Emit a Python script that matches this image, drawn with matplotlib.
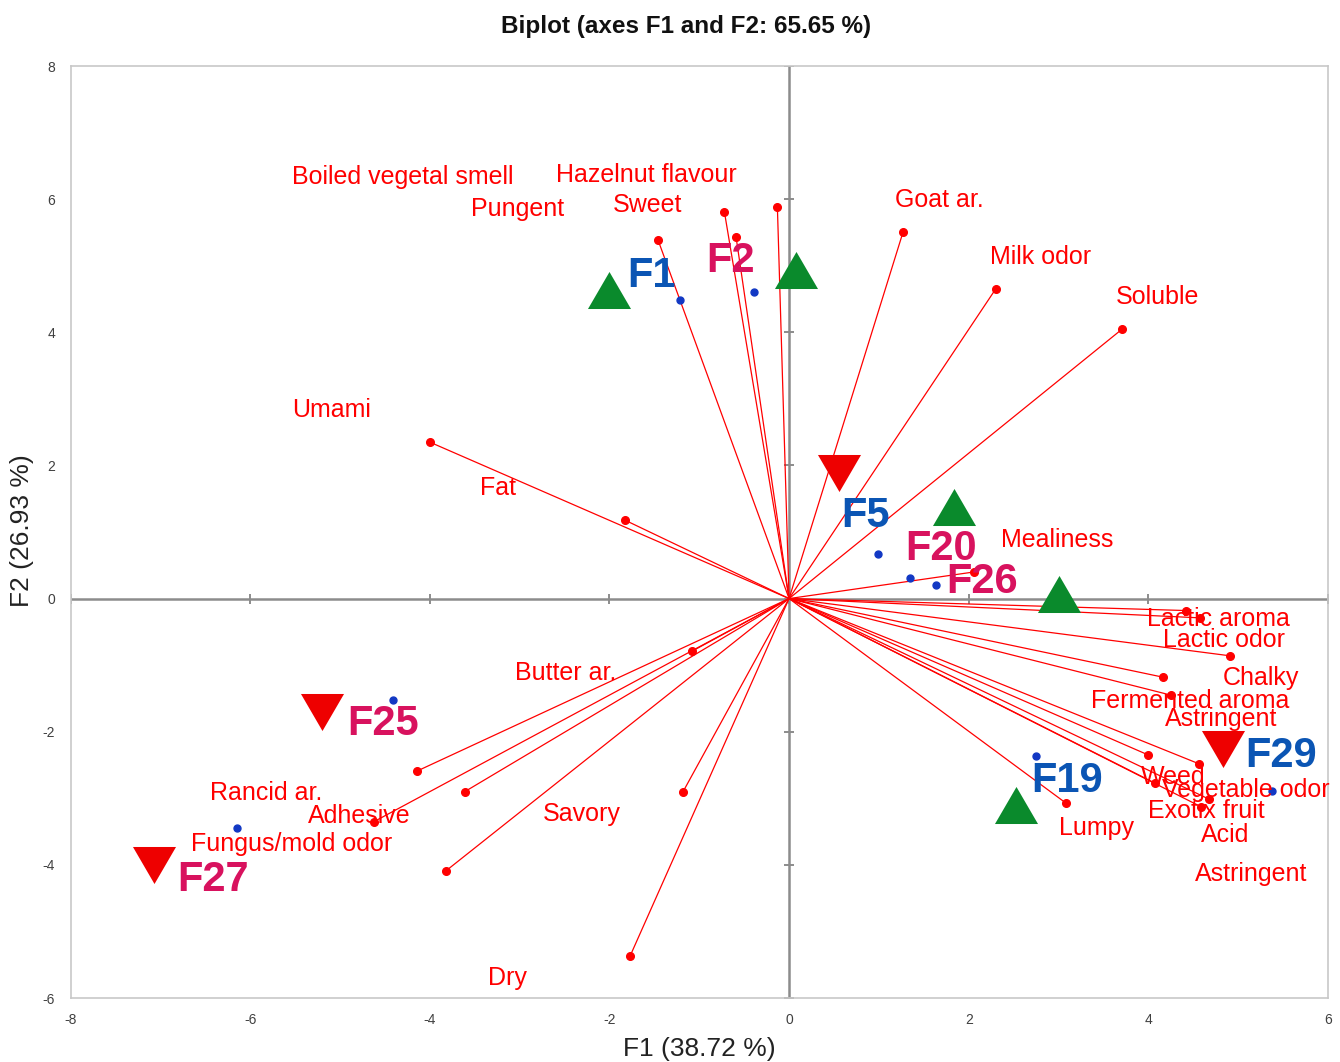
import matplotlib
matplotlib.use("Agg")
import matplotlib.pyplot as plt
from matplotlib.path import Path

plt.rcParams['axes.unicode_minus'] = False
plt.rcParams['font.family'] = ['Liberation Sans', 'DejaVu Sans']

# Active variables: loadings on F1 / F2
var_names = [
    "Boiled vegetal smell", "Pungent", "Hazelnut flavour", "Sweet",
    "Goat ar.", "Milk odor", "Soluble", "Umami", "Fat", "Mealiness",
    "Lactic aroma", "Lactic odor", "Chalky", "Fermented aroma", "Astringent",
    "Weed", "Vegetable odor", "Exotix fruit", "Acid", "Astringent", "Lumpy",
    "Butter ar.", "Rancid ar.", "", "Adhesive", "Fungus/mold odor",
    "Savory", "Dry",
]
var_f1 = [-1.46, -0.72, -0.13, -0.59, 1.27, 2.30, 3.71, -4.00, -1.83, 2.06,
          4.42, 4.58, 4.91, 4.16, 4.25, 4.00, 4.56, 4.07, 4.67, 4.59, 3.08,
          -1.08, -4.14, -3.61, -4.62, -3.82, -1.18, -1.77]
var_f2 = [5.39, 5.81, 5.88, 5.43, 5.51, 4.65, 4.05, 2.35, 1.18, 0.40,
          -0.18, -0.29, -0.86, -1.18, -1.45, -2.35, -2.48, -2.77, -3.01, -3.13, -3.07,
          -0.79, -2.59, -2.90, -3.35, -4.09, -2.90, -5.37]

# Observations (products)
obs_names = ["F1", "F2", "F5", "F20", "F26", "F25", "F27", "F19", "F29"]
obs_f1 = [-1.21, -0.39, 0.99, 1.35, 1.64, -4.41, -6.15, 2.75, 5.38]
obs_f2 = [4.49, 4.61, 0.67, 0.31, 0.21, -1.53, -3.45, -2.36, -2.89]
obs_group = ["blue", "pink", "blue", "pink", "pink", "pink", "pink", "blue", "blue"]

# Supplementary markers
up_f1 = [-2.01, 0.08, 1.84, 3.00, 2.53]
up_f2 = [4.63, 4.94, 1.38, 0.07, -3.10]
down_f1 = [0.56, -5.20, -7.07, 4.83]
down_f2 = [1.88, -1.70, -4.00, -2.26]

x_ticks = [-8, -6, -4, -2, 0, 2, 4, 6]
y_ticks = [-6, -4, -2, 0, 2, 4, 6, 8]

# Label offsets (points) relative to each point
var_label_offset = [
    (-184, 45), (-149, 2), (-94, 23), (-64, 23), (26, 23), (32, 23), (25, 23),
    (-71, 23), (-91, 23), (60, 23), (23, -6), (17, -16), (22, -16), (20, -17),
    (36, -17), (18, -16), (34, -19), (37, -20), (12, -26), (36, -48), (22, -18),
    (-91, -16), (-109, -16), (0, 0), (-11, 4), (-111, 19), (-73, -16), (-88, -16),
]
obs_label_offset = [(-21, 17), (-17, 22), (-9, 27), (22, 21), (33, 2),
                    (-7, -17), (-17, -37), (22, -18), (6, 25)]

RED = "#FF0000"
GREEN = "#0A8A2C"
DOT_BLUE = "#1238C4"
LABEL_COLORS = {"blue": "#0B55B4", "pink": "#D8125E"}

fig = plt.figure(figsize=(13.4, 10.62), dpi=100)
ax = fig.add_axes([70.5 / 1340, 64 / 1062, 1257.5 / 1340, 932 / 1062])
ax.set_xlim(-8, 6)
ax.set_ylim(-6, 8)

# Zero axes with crossing ticks
ax.axhline(0, color="#8C8C8C", lw=1.8, zorder=1)
ax.axvline(0, color="#8C8C8C", lw=1.8, zorder=1)
ax.plot(x_ticks, [0] * len(x_ticks), ls="none", marker="|", ms=7,
        mew=1.4, color="#8C8C8C", zorder=1)
ax.plot([0] * len(y_ticks), y_ticks, ls="none", marker="_", ms=7,
        mew=1.4, color="#8C8C8C", zorder=1)

# Variable vectors
for x, y in zip(var_f1, var_f2):
    ax.plot([0, x], [0, y], color=RED, lw=0.9, zorder=2)
ax.plot(var_f1, var_f2, "o", color=RED, ms=5.5, zorder=3)
for name, x, y, off in zip(var_names, var_f1, var_f2, var_label_offset):
    if name:
        ax.annotate(name, (x, y), xytext=off, textcoords="offset points",
                    ha="center", va="center", fontsize=18, color=RED, zorder=5)

# Observations
ax.plot(obs_f1, obs_f2, "o", color=DOT_BLUE, ms=5, zorder=4)
for name, x, y, g, off in zip(obs_names, obs_f1, obs_f2, obs_group, obs_label_offset):
    ax.annotate(name, (x, y), xytext=off, textcoords="offset points",
                ha="center", va="center", fontsize=30, fontweight="bold",
                color=LABEL_COLORS[g], zorder=6)

# Triangles
tri_up = Path([(-1, -0.86), (1, -0.86), (0, 0.86), (-1, -0.86)],
              [Path.MOVETO, Path.LINETO, Path.LINETO, Path.CLOSEPOLY])
tri_down = Path([(-1, 0.86), (1, 0.86), (0, -0.86), (-1, 0.86)],
                [Path.MOVETO, Path.LINETO, Path.LINETO, Path.CLOSEPOLY])
ax.plot(up_f1, up_f2, ls="none", marker=tri_up, ms=31, color=GREEN, mew=0, zorder=4)
ax.plot(down_f1, down_f2, ls="none", marker=tri_down, ms=31, color="#EE0000", mew=0, zorder=4)

# Frame and tick labels
for s in ax.spines.values():
    s.set_color("#C8C8C8")
    s.set_linewidth(1.2)
ax.set_xticks(x_ticks)
ax.set_yticks(y_ticks)
ax.set_xticklabels([str(t) for t in x_ticks])
ax.set_yticklabels([str(t) for t in y_ticks])
ax.tick_params(length=0, labelsize=10, colors="#404040", pad=11)

fig.text(686 / 1340, 1 - 27 / 1062, "Biplot (axes F1 and F2: 65.65 %)",
         ha="center", va="center", fontsize=17.5, fontweight="bold", color="#111111")
fig.text(699 / 1340, 1 - 1049 / 1062, "F1 (38.72 %)", ha="center", va="center",
         fontsize=19, color="#222222")
fig.text(22 / 1340, 1 - 531 / 1062, "F2 (26.93 %)", ha="center", va="center",
         rotation=90, fontsize=19, color="#222222")

fig.savefig("out.png", dpi=100, facecolor="white")
